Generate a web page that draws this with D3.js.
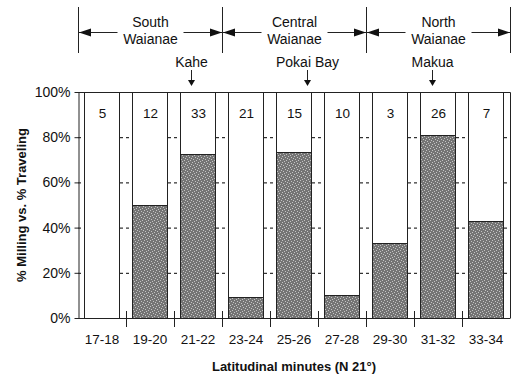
<!DOCTYPE html>
<html>
<head>
<meta charset="utf-8">
<script src="https://cdn.jsdelivr.net/npm/d3@7"></script>
<style>
  body { margin: 0; background: #fff; }
  text { font-family: "Liberation Sans", Arial, sans-serif; fill: #111; }
</style>
</head>
<body>
<div id="chart"></div>
<script>
// Chart size.
const WIDTH = 518;
const HEIGHT = 377;

// Plot area edges.
const M = { left: 78, right: 510, top: 92, bottom: 318 };

// Latitude bins (minutes N 21°), fish counts and % milling per bin.
const categories = ["17-18", "19-20", "21-22", "23-24", "25-26", "27-28", "29-30", "31-32", "33-34"];
const counts = [5, 12, 33, 21, 15, 10, 3, 26, 7];
const milling = [0, 50, 72.7, 9.5, 73.3, 10, 33.3, 80.8, 42.9];
const yTicks = [0, 20, 40, 60, 80, 100];

// Coast regions, as latitude minute ranges.
const regionNames = [["South", "Waianae"], ["Central", "Waianae"], ["North", "Waianae"]];
const regionStart = [17, 23, 29];
const regionEnd = [23, 29, 35];

// Place names and their latitude (minutes).
const places = ["Kahe", "Pokai Bay", "Makua"];
const placeLat = [21.7, 26.55, 31.75];

let rows = categories.map((c, i) => ({ cat: c, n: counts[i], mill: milling[i] }));

let svg = d3
  .select("#chart")
  .append("svg")
  .attr("width", WIDTH)
  .attr("height", HEIGHT);

let x = d3
  .scaleBand()
  .domain(categories)
  .range([M.left, M.right])
  .paddingInner(0.27)
  .paddingOuter(0.135);

let lat = d3.scaleLinear().domain([17, 35]).range([M.left, M.right]);

let y = d3.scaleLinear().domain([0, 100]).range([M.bottom, M.top]);

// Stipple fill for the milling part.
let defs = svg.append("defs");
let pat = defs
  .append("pattern")
  .attr("id", "stipple")
  .attr("patternUnits", "userSpaceOnUse")
  .attr("width", 6)
  .attr("height", 6);
pat.append("rect").attr("width", 6).attr("height", 6).attr("fill", "#747474");
[[0, 0], [3, 1], [1, 3], [4, 4], [5, 2], [2, 5]].forEach((p) => {
  pat
    .append("rect")
    .attr("x", p[0])
    .attr("y", p[1])
    .attr("width", 1)
    .attr("height", 1)
    .attr("fill", "#c4c4c4");
});

// Dashed gridlines (only visible between bars).
svg
  .append("g")
  .selectAll("line")
  .data(yTicks.filter((d) => d > 0 && d < 100))
  .enter()
  .append("line")
  .attr("x1", M.left)
  .attr("x2", M.right)
  .attr("y1", (d) => y(d) + 0.5)
  .attr("y2", (d) => y(d) + 0.5)
  .attr("stroke", "#000")
  .attr("stroke-dasharray", "3,3");

// Bars: white = traveling, stippled = milling.
let bars = svg
  .append("g")
  .selectAll("g")
  .data(rows)
  .enter()
  .append("g");

bars
  .append("rect")
  .attr("x", (d) => Math.round(x(d.cat)) + 0.5)
  .attr("y", y(100) + 0.5)
  .attr("width", Math.round(x.bandwidth()))
  .attr("height", y(0) - y(100))
  .attr("fill", "#fff")
  .attr("stroke", "#222");

bars
  .filter((d) => d.mill > 0)
  .append("rect")
  .attr("x", (d) => Math.round(x(d.cat)) + 0.5)
  .attr("y", (d) => Math.round(y(d.mill)) + 0.5)
  .attr("width", Math.round(x.bandwidth()))
  .attr("height", (d) => y(0) - Math.round(y(d.mill)))
  .attr("fill", "url(#stipple)")
  .attr("stroke", "#222");

bars
  .append("text")
  .attr("x", (d) => x(d.cat) + x.bandwidth() / 2 + 0.5)
  .attr("y", y(100) + 21)
  .attr("dy", "0.35em")
  .attr("text-anchor", "middle")
  .style("font-size", "13.5px")
  .text((d) => d.n);

// Frame: top and right edges.
svg
  .append("path")
  .attr("d", `M${M.left},${M.top + 0.5}H${M.right + 0.5}V${M.bottom}`)
  .attr("fill", "none")
  .attr("stroke", "#222");

// Y axis.
let yAxis = svg
  .append("g")
  .attr("transform", `translate(${M.left + 0.5},0)`)
  .call(
    d3
      .axisLeft(y)
      .tickValues(yTicks)
      .tickFormat((d) => d + "%")
      .tickSize(4)
      .tickSizeOuter(0)
      .tickPadding(4)
  );
yAxis.selectAll("text").style("font-size", "14px").attr("fill", "#222");
yAxis.selectAll("line, path").attr("stroke", "#222");

// X axis: labels under bars, cross ticks on bin edges.
let xAxis = svg
  .append("g")
  .attr("transform", `translate(0,${M.bottom + 0.5})`)
  .call(d3.axisBottom(x).tickSize(0).tickSizeOuter(0).tickPadding(16));
xAxis.selectAll("text").style("font-size", "13.5px").attr("fill", "#222");
xAxis.select("path").attr("d", `M${M.left},0H${M.right + 0.5}`).attr("stroke", "#222");

svg
  .append("g")
  .selectAll("line")
  .data(categories.slice(1))
  .enter()
  .append("line")
  .attr("x1", (d) => Math.round(x(d) - (x.step() - x.bandwidth()) / 2) + 0.5)
  .attr("x2", (d) => Math.round(x(d) - (x.step() - x.bandwidth()) / 2) + 0.5)
  .attr("y1", M.bottom - 7)
  .attr("y2", M.bottom + 9)
  .attr("stroke", "#222");

// Axis titles.
svg
  .append("text")
  .attr("x", (M.left + M.right) / 2)
  .attr("y", 366)
  .attr("dy", "0.35em")
  .attr("text-anchor", "middle")
  .style("font-size", "13px")
  .style("font-weight", "bold")
  .text("Latitudinal minutes (N 21°)");

svg
  .append("text")
  .attr("transform", `translate(21,${(M.top + M.bottom) / 2}) rotate(-90)`)
  .attr("dy", "0.35em")
  .attr("text-anchor", "middle")
  .style("font-size", "13px")
  .style("font-weight", "bold")
  .text("% Milling vs. % Traveling");

// Region brackets along the top.
const AY = 32;
svg
  .append("g")
  .selectAll("line")
  .data(regionStart.concat([regionEnd[regionEnd.length - 1]]))
  .enter()
  .append("line")
  .attr("x1", (d) => Math.round(lat(d)) + 0.5)
  .attr("x2", (d) => Math.round(lat(d)) + 0.5)
  .attr("y1", 7)
  .attr("y2", 53)
  .attr("stroke", "#222");

let regions = svg
  .append("g")
  .selectAll("g")
  .data(regionNames)
  .enter()
  .append("g");

regions.each(function (d, i) {
  let g = d3.select(this);
  let x0 = Math.round(lat(regionStart[i])) + 1;
  let x1 = Math.round(lat(regionEnd[i]));
  let cx = (x0 + x1) / 2;
  g.append("line")
    .attr("x1", x0)
    .attr("x2", x1)
    .attr("y1", AY + 0.5)
    .attr("y2", AY + 0.5)
    .attr("stroke", "#222");
  // Arrow heads pointing at the bracket lines.
  g.append("path")
    .attr("d", `M${x0},${AY + 0.5}l12,-4v8z`)
    .attr("fill", "#111");
  g.append("path")
    .attr("d", `M${x1},${AY + 0.5}l-12,-4v8z`)
    .attr("fill", "#111");
  g.append("rect")
    .attr("x", cx - 33)
    .attr("y", 12)
    .attr("width", 66)
    .attr("height", 38)
    .attr("fill", "#fff");
  g.selectAll("text")
    .data(d)
    .enter()
    .append("text")
    .attr("x", cx)
    .attr("y", (t, j) => 22 + j * 17)
    .attr("dy", "0.35em")
    .attr("text-anchor", "middle")
    .style("font-size", "14px")
    .text((t) => t);
});

// Place markers.
let pl = svg
  .append("g")
  .selectAll("g")
  .data(places)
  .enter()
  .append("g")
  .attr("transform", (d, i) => `translate(${Math.round(lat(placeLat[i])) + 0.5},0)`);

pl.append("text")
  .attr("y", 62)
  .attr("dy", "0.35em")
  .attr("text-anchor", "middle")
  .style("font-size", "14px")
  .text((d) => d);

pl.append("line")
  .attr("y1", 70)
  .attr("y2", 82)
  .attr("stroke", "#222");

pl.append("path")
  .attr("d", "M-3.5,80h7l-3.5,6z")
  .attr("fill", "#111");
</script>
</body>
</html>
